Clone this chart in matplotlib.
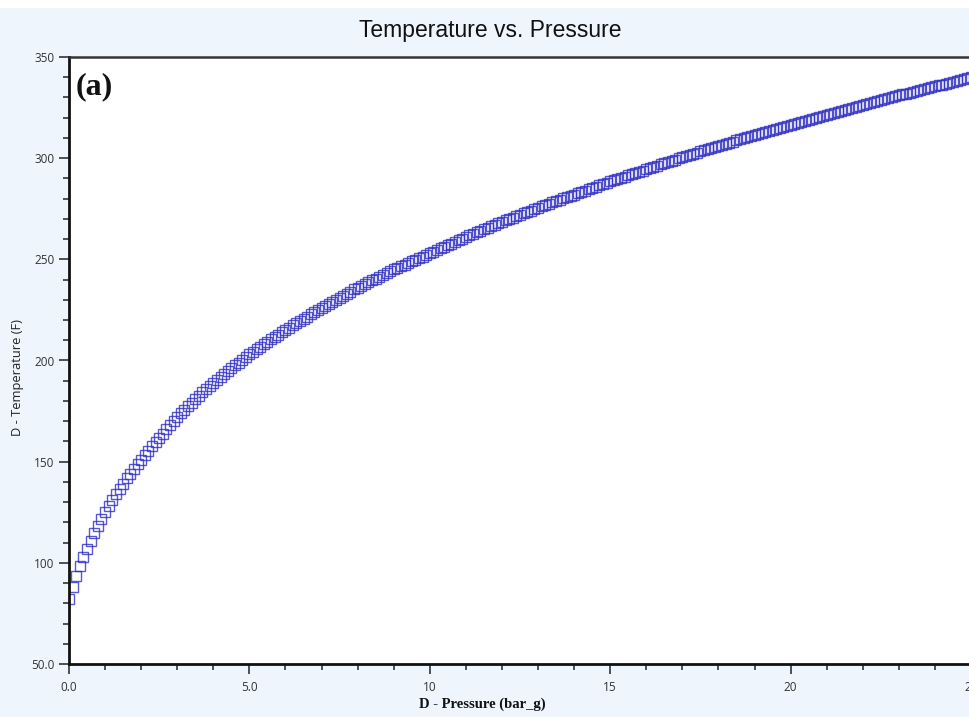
import numpy as np
import matplotlib
matplotlib.use("Agg")
import matplotlib.pyplot as plt
from matplotlib.patches import Rectangle
from matplotlib.ticker import MultipleLocator

# temperature (F), one row per bar of pressure, 0.1 bar steps
temp = [
    82.0, 88.0, 93.3, 98.2, 102.7, 106.9, 110.9, 114.6, 118.2, 121.7,
    125.0, 128.1, 131.1, 133.9, 136.6, 139.2, 141.7, 144.1, 146.4, 148.7,
    151.0, 153.3, 155.5, 157.6, 159.7, 161.8, 163.9, 166.0, 168.0, 170.0,
    172.0, 173.9, 175.7, 177.5, 179.2, 180.9, 182.6, 184.3, 185.9, 187.5,
    189.0, 190.5, 192.0, 193.4, 194.8, 196.2, 197.6, 199.0, 200.3, 201.7,
    203.0, 204.3, 205.6, 206.8, 208.0, 209.2, 210.4, 211.6, 212.7, 213.9,
    215.0, 216.2, 217.3, 218.4, 219.5, 220.6, 221.7, 222.8, 223.9, 224.9,
    226.0, 227.1, 228.1, 229.1, 230.1, 231.1, 232.1, 233.1, 234.1, 235.1,
    236.0, 236.9, 237.8, 238.7, 239.6, 240.5, 241.4, 242.3, 243.2, 244.1,
    245.0, 245.8, 246.6, 247.4, 248.2, 249.0, 249.8, 250.6, 251.4, 252.2,
    253.0, 253.8, 254.6, 255.4, 256.2, 257.0, 257.8, 258.6, 259.4, 260.2,
    261.0, 261.8, 262.5, 263.3, 264.0, 264.8, 265.5, 266.3, 267.0, 267.8,
    268.5, 269.2, 269.9, 270.6, 271.3, 272.0, 272.7, 273.4, 274.1, 274.8,
    275.5, 276.2, 276.8, 277.5, 278.1, 278.8, 279.4, 280.1, 280.7, 281.4,
    282.0, 282.7, 283.3, 284.0, 284.6, 285.3, 285.9, 286.6, 287.2, 287.9,
    288.5, 289.1, 289.7, 290.3, 290.9, 291.5, 292.1, 292.7, 293.3, 293.9,
    294.5, 295.1, 295.7, 296.3, 296.9, 297.5, 298.1, 298.7, 299.3, 299.9,
    300.5, 301.1, 301.6, 302.2, 302.7, 303.3, 303.8, 304.4, 304.9, 305.5,
    306.0, 306.6, 307.1, 307.7, 308.2, 308.8, 309.3, 309.9, 310.4, 311.0,
    311.5, 312.0, 312.5, 313.0, 313.5, 314.0, 314.5, 315.0, 315.5, 316.0,
    316.5, 317.0, 317.5, 318.0, 318.5, 319.0, 319.5, 320.0, 320.5, 321.0,
    321.5, 322.0, 322.5, 323.0, 323.5, 324.0, 324.5, 325.0, 325.5, 326.0,
    326.5, 327.0, 327.4, 327.9, 328.3, 328.8, 329.2, 329.7, 330.1, 330.6,
    331.0, 331.5, 331.9, 332.4, 332.8, 333.3, 333.7, 334.2, 334.6, 335.1,
    335.5, 336.0, 336.4, 336.9, 337.3, 337.8, 338.2, 338.7, 339.1, 339.6,
    340.0,
]
pressure = np.arange(len(temp)) * 0.1

xticks = [0, 5, 10, 15, 20, 25]
xticklabels = ["0.0", "5.0", "10", "15", "20", "25"]
yticks = [50, 100, 150, 200, 250, 300, 350]
yticklabels = ["50.0", "100", "150", "200", "250", "300", "350"]

bg = "#eef5fc"
W, H = 969, 717
fig = plt.figure(figsize=(W / 100, H / 100), dpi=100, facecolor=bg)
# white strip along the very top
fig.patches.append(Rectangle((0, 1 - 8 / H), 1, 8 / H, transform=fig.transFigure,
                             facecolor="white", edgecolor="none", zorder=0))

ax = fig.add_axes([69 / W, 53 / H, (971 - 69) / W, (664 - 57) / H])
ax.set_facecolor("white")

ax.plot(pressure, temp, linestyle="none", marker="s", markersize=7,
        markerfacecolor="none", markeredgecolor="#2e2ec4", markeredgewidth=1.0,
        alpha=0.8)

ax.set_xlim(0, 25)
ax.set_ylim(50, 350)
ax.set_xticks(xticks)
ax.set_xticklabels(xticklabels)
ax.set_yticks(yticks)
ax.set_yticklabels(yticklabels)
ax.xaxis.set_minor_locator(MultipleLocator(1))
ax.yaxis.set_minor_locator(MultipleLocator(10))

for lab in ax.get_xticklabels() + ax.get_yticklabels():
    lab.set_fontfamily("Open Sans")
    lab.set_fontsize(8.5)
    lab.set_color("#333333")
ax.tick_params(which="major", length=7.5, width=1.2, color="#333333", pad=3)
ax.tick_params(which="minor", length=4.5, width=1.2, color="#333333")
ax.tick_params(axis="x", which="major", pad=5)

for s in ["left", "bottom"]:
    ax.spines[s].set_linewidth(2)
    ax.spines[s].set_color("#111111")
ax.spines["top"].set_linewidth(1.8)
ax.spines["top"].set_color("#333333")
ax.spines["right"].set_visible(False)

fig.text(490 / W, 1 - 31 / H, "Temperature vs. Pressure", ha="center", va="center",
         fontsize=16.5, family="Liberation Sans", color="#111111")
fig.text(482 / W, 1 - 704 / H, "D - Pressure (bar_g)", ha="center", va="center",
         fontsize=10.5, family="Liberation Serif", weight="bold", color="#111111")
fig.text(18 / W, 1 - 377 / H, "D - Temperature (F)", ha="center", va="center",
         rotation=90, fontsize=9.3, family="Open Sans", color="#222222")
ax.text(0.007, 0.975, "(a)", transform=ax.transAxes, ha="left", va="top",
        fontsize=23, family="Liberation Serif", weight="bold", color="#111111")

fig.savefig("out.png", dpi=100, facecolor=bg)
